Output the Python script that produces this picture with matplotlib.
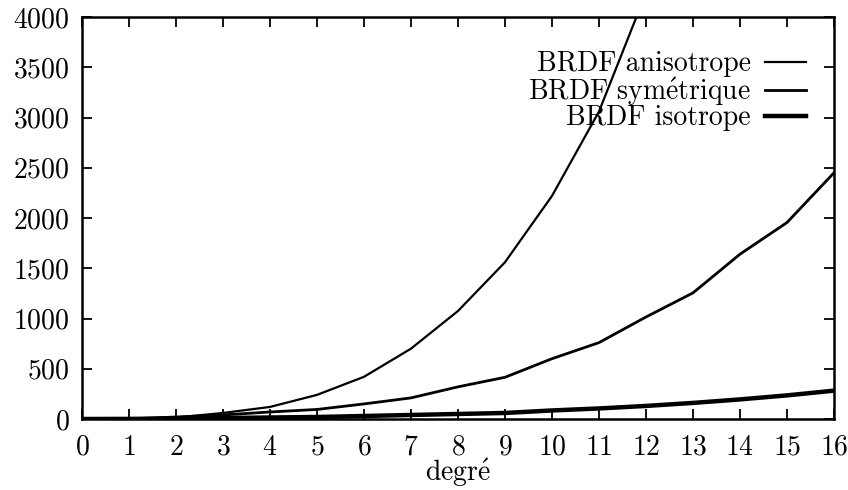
import matplotlib
matplotlib.use('Agg')
import matplotlib.pyplot as plt

# --- Data ---
degres = list(range(17))
anisotrope = [0, 2, 15, 60, 120, 240, 420, 700, 1075, 1560, 2220, 3060, 4240,
              5900, 8100, 11000, 15000]
symetrique = [0, 1, 20, 40, 70, 95, 150, 210, 320, 415, 600, 760, 1015,
              1255, 1640, 1955, 2450]
isotrope = [0, 1, 5, 10, 15, 20, 30, 40, 50, 60, 85, 105, 130, 160, 195,
            235, 282]
xticks = list(range(17))
yticks = [0, 500, 1000, 1500, 2000, 2500, 3000, 3500, 4000]

plt.rcParams['font.family'] = ['cmr10', 'DejaVu Serif']
plt.rcParams['mathtext.fontset'] = 'cm'
plt.rcParams['axes.formatter.use_mathtext'] = True

fig = plt.figure(figsize=(8.48, 4.9), dpi=100)
ax = fig.add_axes([82 / 848, 71 / 490, 752 / 848, 402 / 490])

ax.plot(degres, anisotrope, color='black', lw=1.6, label='BRDF anisotrope')
ax.plot(degres, symetrique, color='black', lw=2.0,
        label=r'BRDF sym$\mathrm{\acute{e}}$trique')
ax.plot(degres, isotrope, color='black', lw=3.2, label='BRDF isotrope')

ax.set_xlim(0, 16)
ax.set_ylim(0, 4000)
ax.set_xticks(xticks)
ax.set_yticks(yticks)
ax.tick_params(direction='in', length=7, width=1.3, top=True, right=True,
               labelsize=20, pad=9)
ax.tick_params(axis='x', pad=11)
for s in ax.spines.values():
    s.set_linewidth(1.8)

ax.set_xlabel(r'degr$\mathrm{\acute{e}}$', fontsize=20, labelpad=-3)

leg = ax.legend(loc='upper right', bbox_to_anchor=(0.963, 0.915),
                frameon=False, markerfirst=False,
                fontsize=20, handlelength=1.5, handletextpad=0.5,
                labelspacing=-0.1, borderaxespad=0.0, borderpad=0.0)

fig.savefig('out.png', dpi=100)
